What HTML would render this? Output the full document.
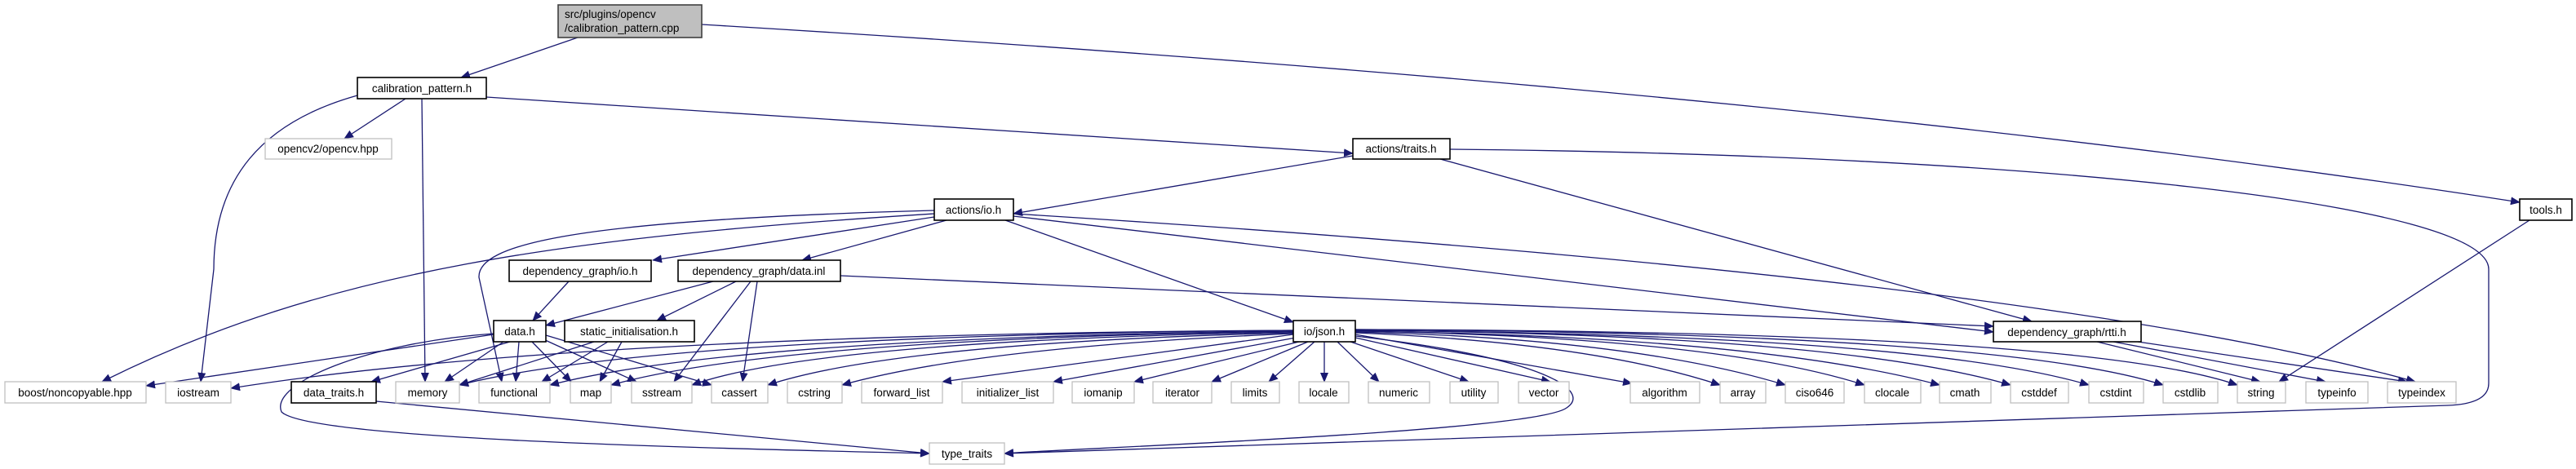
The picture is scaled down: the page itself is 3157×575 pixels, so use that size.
<!DOCTYPE html>
<html><head><meta charset="utf-8"><style>
html,body{margin:0;padding:0;background:#fff;}
svg{display:block;}
text{font-family:"Liberation Sans","DejaVu Sans",sans-serif;font-size:13.5px;fill:#000;text-anchor:middle;}
.b{fill:#fff;stroke:#000;stroke-width:1.6;}
.g{fill:#fff;stroke:#bfbfbf;stroke-width:1.3;}
.e{fill:none;stroke:#191970;stroke-width:1.3;marker-end:url(#a);}
</style></head><body>
<svg width="3157" height="575" viewBox="0 0 3157 575" xmlns="http://www.w3.org/2000/svg">
<defs><marker id="a" markerWidth="12" markerHeight="10" refX="11" refY="5" orient="auto" markerUnits="userSpaceOnUse"><path d="M0,0 L12,5 L0,10 z" fill="#191970"/></marker></defs>
<!-- edges -->
<path class="e" d="M708,46 L565,95"/>
<path class="e" d="M860,30 Q2200,110 3088,248"/>
<path class="e" d="M497,121 L422,170"/>
<path class="e" d="M438,117 C320,150 262,220 262,330 L246,468"/>
<path class="e" d="M517,121 L521,468"/>
<path class="e" d="M596,119 L1658,188"/>
<path class="e" d="M1658,191 L1242,262"/>
<path class="e" d="M1765,195 L2490,394"/>
<path class="e" d="M1777,183 C2500,190 3050,250 3050,330 L3050,470 Q3050,495 3000,497 L1231,556"/>
<path class="e" d="M3100,270 L2793,468"/>
<path class="e" d="M1145,262 C700,290 400,330 125,468"/>
<path class="e" d="M1145,258 C700,270 585,300 587,340 L615,468"/>
<path class="e" d="M1145,266 L800,319"/>
<path class="e" d="M1160,270 L983,319"/>
<path class="e" d="M1232,270 L1585,395"/>
<path class="e" d="M1242,265 L2443,407"/>
<path class="e" d="M1242,262 Q2500,340 2960,468"/>
<path class="e" d="M697,345 L653,393"/>
<path class="e" d="M874,345 L669,399"/>
<path class="e" d="M902,345 L805,393"/>
<path class="e" d="M920,345 L826,468"/>
<path class="e" d="M928,345 L910,468"/>
<path class="e" d="M1030,338 L2443,400"/>
<path class="e" d="M605,410 L179,473"/>
<path class="e" d="M605,409 C450,420 330,470 345,505 C380,540 900,550 1139,556"/>
<path class="e" d="M625,419 L455,468"/>
<path class="e" d="M617,419 L545,468"/>
<path class="e" d="M636,419 L632,468"/>
<path class="e" d="M652,419 L700,468"/>
<path class="e" d="M666,416 L780,468"/>
<path class="e" d="M669,411 L872,472"/>
<path class="e" d="M728,419 L563,472"/>
<path class="e" d="M745,419 L664,468"/>
<path class="e" d="M762,419 L735,468"/>
<path class="e" d="M461,492 L1139,556"/>
<!-- json fan -->
<path class="e" d="M1585,405 Q700,410 283,476"/>
<path class="e" d="M1585,405 Q800,412 563,472"/>
<path class="e" d="M1585,406 Q900,414 674,472"/>
<path class="e" d="M1585,406 Q950,416 749,472"/>
<path class="e" d="M1585,407 Q1000,418 848,472"/>
<path class="e" d="M1585,408 Q1100,420 941,472"/>
<path class="e" d="M1585,409 Q1200,425 1032,472"/>
<path class="e" d="M1585,410 L1155,468"/>
<path class="e" d="M1588,414 L1291,468"/>
<path class="e" d="M1592,419 L1390,468"/>
<path class="e" d="M1603,419 L1485,468"/>
<path class="e" d="M1611,419 L1555,468"/>
<path class="e" d="M1623,419 L1623,468"/>
<path class="e" d="M1639,419 L1690,468"/>
<path class="e" d="M1655,419 L1800,468"/>
<path class="e" d="M1661,414 L1900,468"/>
<path class="e" d="M1661,410 L2000,470"/>
<path class="e" d="M1661,408 Q1950,420 2108,472"/>
<path class="e" d="M1661,407 Q2000,415 2188,472"/>
<path class="e" d="M1661,406 Q2100,413 2285,472"/>
<path class="e" d="M1661,406 Q2150,412 2377,472"/>
<path class="e" d="M1661,405 Q2250,410 2464,472"/>
<path class="e" d="M1661,405 Q2350,410 2560,472"/>
<path class="e" d="M1661,404 Q2450,408 2651,472"/>
<path class="e" d="M1661,404 Q2550,406 2742,472"/>
<path class="e" d="M1661,412 C1900,440 1950,480 1920,500 C1880,530 1300,550 1231,556"/>
<path class="e" d="M2570,419 L2770,468"/>
<path class="e" d="M2590,419 L2850,468"/>
<path class="e" d="M2620,419 L2950,468"/>
<!-- nodes -->
<rect x="684" y="6" width="176" height="40" fill="#bfbfbf" stroke="#404040" stroke-width="1.6"/>
<text x="692" y="22" style="text-anchor:start">src/plugins/opencv</text>
<text x="692" y="39" style="text-anchor:start">/calibration_pattern.cpp</text>
<rect class="b" x="438" y="95" width="158" height="26"/><text x="517" y="113">calibration_pattern.h</text>
<rect class="g" x="325" y="170" width="155" height="25"/><text x="402" y="187">opencv2/opencv.hpp</text>
<rect class="b" x="1658" y="170" width="119" height="25"/><text x="1717" y="187">actions/traits.h</text>
<rect class="b" x="1145" y="244" width="97" height="26"/><text x="1193" y="262">actions/io.h</text>
<rect class="b" x="3088" y="244" width="64" height="26"/><text x="3120" y="262">tools.h</text>
<rect class="b" x="624" y="319" width="174" height="26"/><text x="711" y="337">dependency_graph/io.h</text>
<rect class="b" x="831" y="319" width="199" height="26"/><text x="930" y="337">dependency_graph/data.inl</text>
<rect class="b" x="605" y="393" width="64" height="26"/><text x="637" y="411">data.h</text>
<rect class="b" x="692" y="393" width="159" height="26"/><text x="771" y="411">static_initialisation.h</text>
<rect class="b" x="1585" y="393" width="76" height="26"/><text x="1623" y="411">io/json.h</text>
<rect class="b" x="2443" y="394" width="181" height="25"/><text x="2533" y="412">dependency_graph/rtti.h</text>
<rect class="g" x="1139" y="543" width="92" height="26"/><text x="1185" y="561">type_traits</text>
<g>
<rect class="g" x="6" y="468" width="173" height="26"/><text x="92" y="486">boost/noncopyable.hpp</text>
<rect class="g" x="203" y="468" width="80" height="26"/><text x="243" y="486">iostream</text>
<rect class="b" x="357" y="468" width="104" height="26"/><text x="409" y="486">data_traits.h</text>
<rect class="g" x="485" y="468" width="78" height="26"/><text x="524" y="486">memory</text>
<rect class="g" x="587" y="468" width="87" height="26"/><text x="630" y="486">functional</text>
<rect class="g" x="699" y="468" width="50" height="26"/><text x="724" y="486">map</text>
<rect class="g" x="774" y="468" width="74" height="26"/><text x="811" y="486">sstream</text>
<rect class="g" x="872" y="468" width="69" height="26"/><text x="906" y="486">cassert</text>
<rect class="g" x="965" y="468" width="67" height="26"/><text x="998" y="486">cstring</text>
<rect class="g" x="1056" y="468" width="99" height="26"/><text x="1105" y="486">forward_list</text>
<rect class="g" x="1179" y="468" width="112" height="26"/><text x="1235" y="486">initializer_list</text>
<rect class="g" x="1314" y="468" width="76" height="26"/><text x="1352" y="486">iomanip</text>
<rect class="g" x="1413" y="468" width="72" height="26"/><text x="1449" y="486">iterator</text>
<rect class="g" x="1509" y="468" width="59" height="26"/><text x="1538" y="486">limits</text>
<rect class="g" x="1592" y="468" width="61" height="26"/><text x="1622" y="486">locale</text>
<rect class="g" x="1677" y="468" width="75" height="26"/><text x="1714" y="486">numeric</text>
<rect class="g" x="1777" y="468" width="59" height="26"/><text x="1806" y="486">utility</text>
<rect class="g" x="1861" y="468" width="62" height="26"/><text x="1892" y="486">vector</text>
<rect class="g" x="1998" y="468" width="85" height="26"/><text x="2040" y="486">algorithm</text>
<rect class="g" x="2108" y="468" width="56" height="26"/><text x="2136" y="486">array</text>
<rect class="g" x="2188" y="468" width="72" height="26"/><text x="2224" y="486">ciso646</text>
<rect class="g" x="2285" y="468" width="69" height="26"/><text x="2319" y="486">clocale</text>
<rect class="g" x="2377" y="468" width="63" height="26"/><text x="2408" y="486">cmath</text>
<rect class="g" x="2464" y="468" width="71" height="26"/><text x="2499" y="486">cstddef</text>
<rect class="g" x="2560" y="468" width="67" height="26"/><text x="2593" y="486">cstdint</text>
<rect class="g" x="2651" y="468" width="67" height="26"/><text x="2684" y="486">cstdlib</text>
<rect class="g" x="2742" y="468" width="59" height="26"/><text x="2771" y="486">string</text>
<rect class="g" x="2826" y="468" width="76" height="26"/><text x="2864" y="486">typeinfo</text>
<rect class="g" x="2926" y="468" width="84" height="26"/><text x="2968" y="486">typeindex</text>
</g>
</svg>
</body></html>
